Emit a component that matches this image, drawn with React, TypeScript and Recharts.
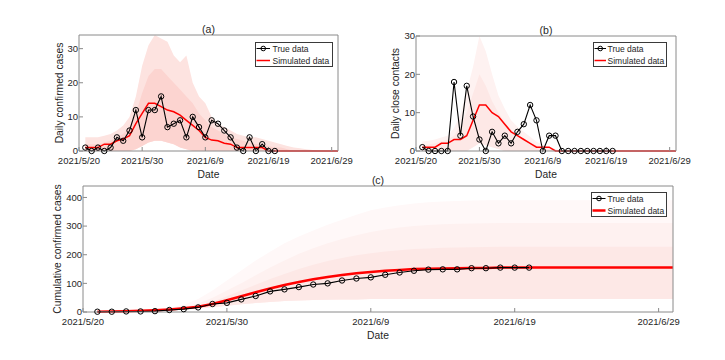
import { ComposedChart, Line, Area, XAxis, YAxis, Legend } from "recharts";

// x = days since 2021/5/20 (1 = 2021/5/21)
const days = [1, 2, 3, 4, 5, 6, 7, 8, 9, 10, 11, 12, 13, 14, 15, 16, 17, 18, 19, 20, 21, 22, 23, 24, 25, 26, 27, 28, 29, 30, 31, 32, 33, 34, 35, 36, 37, 38, 39, 40, 41];
const dateTicks = [0, 10, 20, 30, 40];
const dateLabels = ["2021/5/20", "2021/5/30", "2021/6/9", "2021/6/19", "2021/6/29"];

// (a) daily confirmed cases
const dailyTrue = [1, 0, 1, 0, 1, 4, 3, 6, 12, 4, 12, 12, 16, 7, 8, 9, 4, 10, 7, 4, 9, 8, 6, 4, 1, 0, 4, 0, 2, 0, 0];
const dailySim = [1, 1, 1, 2, 2, 3, 3.5, 4.5, 8, 11, 14, 14, 13, 12, 11.5, 10.5, 9, 7.5, 6, 4, 3.2, 3, 2.3, 2, 1, 1, 1, 1, 1, 0, 0, 0, 0, 0, 0, 0, 0, 0, 0, 0, 0];
const dailyHi = [4, 4, 4, 4.5, 5, 6, 7.5, 10, 16, 25, 31, 34, 33, 32, 28, 26, 28, 20, 16, 14, 10, 8, 7, 6, 5, 4.5, 4, 4, 3.5, 3, 2.5, 2, 1.5, 1, 0.8, 0.5, 0.3, 0, 0, 0, 0];
const dailyCore = [2, 2, 2, 2.5, 3, 4, 5, 7, 11, 17, 22, 24, 24, 22, 20, 18, 16, 14, 11, 9, 7, 6, 5, 4, 3.5, 3, 2.5, 2, 2, 1.5, 1, 1, 0.5, 0, 0, 0, 0, 0, 0, 0, 0];
const dailyLo = [0, 0, 0, 0, 0, 0, 0, 0, 0.5, 1.5, 2.5, 3, 3, 2.5, 2, 1, 0.5, 0, 0, 0, 0, 0, 0, 0, 0, 0, 0, 0, 0, 0, 0, 0, 0, 0, 0, 0, 0, 0, 0, 0, 0];

// (b) daily close contacts
const contactTrue = [1, 0, 0, 0, 0, 18, 4, 17, 9, 3, 0, 5, 2, 4, 2, 5, 7, 12, 8, 0, 4, 4, 0, 0, 0, 0, 0, 0, 0, 0, 0];
const contactSim = [1, 1, 1, 2, 2, 3, 3, 4, 8, 12, 12, 10, 9, 7, 5, 4, 3, 2, 1, 1, 1, 0, 0, 0, 0, 0, 0, 0, 0, 0, 0, 0, 0, 0, 0, 0, 0, 0, 0, 0, 0];
const contactHi = [2.5, 2.7, 3, 3.5, 4, 6, 9.5, 15.5, 22, 30, 26, 20, 14.5, 11, 8, 6.3, 5, 3.7, 2.4, 1.6, 1, 0.5, 0, 0, 0, 0, 0, 0, 0, 0, 0, 0, 0, 0, 0, 0, 0, 0, 0, 0, 0];
const contactCore = [1.5, 1.7, 2, 2.5, 3, 4, 6.5, 10, 15, 20, 17, 13, 10, 7.5, 5.5, 4, 3, 2, 1.5, 1, 0.5, 0.2, 0, 0, 0, 0, 0, 0, 0, 0, 0, 0, 0, 0, 0, 0, 0, 0, 0, 0, 0];
const contactLo = [0, 0, 0, 0, 0, 0, 0, 0, 1, 2, 1.5, 1, 0.5, 0, 0, 0, 0, 0, 0, 0, 0, 0, 0, 0, 0, 0, 0, 0, 0, 0, 0, 0, 0, 0, 0, 0, 0, 0, 0, 0, 0];

// (c) cumulative confirmed cases
const cumTrue = [1, 1, 2, 2, 3, 7, 10, 16, 28, 32, 44, 56, 72, 79, 87, 96, 100, 110, 117, 121, 130, 138, 144, 148, 149, 149, 153, 153, 155, 155, 155];
const cumSim = [1, 2, 3, 4, 6, 9, 13, 18, 28, 41, 55, 69, 82, 94, 105, 114, 122, 129, 135, 140, 144, 147, 150, 151, 152, 153, 154, 154, 155, 155, 155, 155, 155, 155, 155, 155, 155, 155, 155, 155, 155];
const cumHi = [2, 3, 4, 6, 8, 14, 25, 45, 75, 110, 145, 180, 210, 240, 264, 285, 305, 322, 340, 355, 365, 373, 379, 383, 386, 388, 389, 390, 390, 390, 390, 390, 390, 390, 390, 390, 390, 390, 390, 390, 390];
const cumMid = [2, 3, 3, 4, 6, 10, 17, 30, 50, 75, 100, 128, 155, 180, 203, 223, 240, 255, 268, 279, 288, 295, 300, 304, 306, 308, 309, 310, 311, 311, 311, 311, 311, 311, 311, 311, 311, 311, 311, 311, 311];
const cumCore = [2, 2, 3, 4, 5, 8, 13, 22, 36, 55, 75, 95, 115, 133, 150, 165, 178, 189, 198, 205, 211, 216, 220, 222, 224, 225, 226, 227, 228, 228, 228, 228, 228, 228, 228, 228, 228, 228, 228, 228, 228];
const cumLo = [1, 1, 1, 2, 3, 5, 8, 12, 17, 22, 27, 31, 35, 38, 40, 42, 43, 44, 44, 45, 45, 45, 45, 45, 45, 45, 45, 45, 45, 45, 45, 45, 45, 45, 45, 45, 45, 45, 45, 45, 45];

const FONT = '"Liberation Sans", Arial, sans-serif';
const TXT = "#262626";
const AX = "#8a8a8a";

const build = (truth: number[], sim: number[], lo: number[], core: number[], hi: number[], mid?: number[]) =>
  days.map((x, i) => ({
    x,
    truth: i < truth.length ? truth[i] : null,
    sim: sim[i],
    lo: lo[i],
    core: core[i],
    mid: mid ? mid[i] : null,
    hi: hi[i],
  }));

const rowsA = build(dailyTrue, dailySim, dailyLo, dailyCore, dailyHi);
const rowsB = build(contactTrue, contactSim, contactLo, contactCore, contactHi);
const rowsC = build(cumTrue, cumSim, cumLo, cumCore, cumHi, cumMid);

type LegendSpec = { left: number; top: number; width: number; lineEnd: number; textX: number };

function LegendBox({ spec, thick }: { spec: LegendSpec; thick?: boolean }) {
  const { left, top, width, lineEnd, textX } = spec;
  const cx = (1.5 + lineEnd) / 2;
  return (
    <div style={{ position: "absolute", left, top, width, height: 25, border: "1px solid #3a3a3a", background: "#fff", boxSizing: "border-box" }}>
      <svg width={width} height={25} style={{ position: "absolute", left: -1, top: -1 }}>
        <line x1={1.5} x2={lineEnd} y1={6.5} y2={6.5} stroke="#000" strokeWidth={1} />
        <circle cx={cx} cy={6.5} r={2.3} fill="none" stroke="#000" strokeWidth={1} />
        <line x1={1.5} x2={lineEnd} y1={18.5} y2={18.5} stroke="#f00" strokeWidth={thick ? 2.5 : 1.5} />
        <text x={textX} y={9.5} fontSize={8.5} fill={TXT} fontFamily={FONT}>True data</text>
        <text x={textX} y={21.5} fontSize={8.5} fill={TXT} fontFamily={FONT}>Simulated data</text>
      </svg>
    </div>
  );
}

type PanelProps = {
  rows: ReturnType<typeof build>;
  width: number;
  height: number;
  margin: { top: number; right: number; bottom: number; left: number };
  yMax: number;
  yTicks: number[];
  yLabel: string;
  yLabelOffset: number;
  title: string;
  xTickMargin: number;
  legend: LegendSpec;
  bands: { key: "core" | "mid" | "hi"; fill: string }[];
  cumulative?: boolean;
};

function Panel(p: PanelProps) {
  const tickStyle = { fontSize: 9.5, fill: TXT, fontFamily: FONT };
  return (
    <ComposedChart width={p.width} height={p.height} data={p.rows} margin={p.margin}>
      <XAxis
        dataKey="x"
        type="number"
        domain={[0, 41]}
        ticks={dateTicks}
        tickFormatter={(v: number) => dateLabels[dateTicks.indexOf(v)]}
        height={27}
        tickSize={-4}
        tickMargin={p.xTickMargin}
        stroke={AX}
        tick={tickStyle}
        interval={0}
        label={{ value: "Date", position: "insideBottom", offset: 0, style: { fontSize: 10.3, fill: TXT, fontFamily: FONT } }}
      />
      <XAxis
        xAxisId="top"
        orientation="top"
        type="number"
        domain={[0, 41]}
        ticks={dateTicks}
        height={1}
        tickSize={-4}
        tick={false}
        stroke={AX}
        label={{ value: p.title, position: "top", offset: 1, style: { fontSize: 10.5, fill: TXT, fontFamily: FONT } }}
      />
      <YAxis
        type="number"
        domain={[0, p.yMax]}
        ticks={p.yTicks}
        width={30}
        tickSize={-4}
        tickMargin={5}
        stroke={AX}
        tick={tickStyle}
        interval={0}
        label={{ value: p.yLabel, angle: -90, position: "insideLeft", offset: p.yLabelOffset, style: { textAnchor: "middle", fontSize: 10.3, fill: TXT, fontFamily: FONT } }}
      />
      <YAxis yAxisId="right" orientation="right" type="number" domain={[0, p.yMax]} ticks={p.yTicks} width={1} tickSize={-4} tick={false} stroke={AX} />
      {p.bands.map((b) => (
        <Area
          key={b.key}
          dataKey={(d: any) => [d.lo, d[b.key]]}
          type="linear"
          stroke="none"
          fill={b.fill}
          fillOpacity={1}
          isAnimationActive={false}
          activeDot={false}
        />
      ))}
      <Line dataKey="sim" type="linear" stroke="#f00" strokeWidth={p.cumulative ? 2.5 : 1.5} dot={false} isAnimationActive={false} />
      <Line
        dataKey="truth"
        type="linear"
        stroke="#000"
        strokeWidth={1.1}
        dot={{ r: 2.7, stroke: "#000", strokeWidth: 1, fill: "none" }}
        isAnimationActive={false}
      />
      <Legend
        layout="vertical"
        align="center"
        verticalAlign="middle"
        wrapperStyle={{ left: 0, top: 0, width: 0, height: 0 }}
        content={() => <LegendBox spec={p.legend} thick={p.cumulative} />}
      />
    </ComposedChart>
  );
}

export default function App() {
  return (
    <div style={{ position: "absolute", left: 0, top: 0, width: 725, height: 360, background: "#fff", fontFamily: FONT }}>
      <div style={{ position: "absolute", left: 0, top: 0 }}>
        <Panel
          rows={rowsA}
          width={360}
          height={180}
          margin={{ top: 34, right: 21, bottom: 2, left: 49 }}
          yMax={34}
          yTicks={[0, 10, 20, 30]}
          yLabel="Daily confirmed cases"
          yLabelOffset={10}
          title="(a)"
          xTickMargin={10.5}
          legend={{ left: 255, top: 41.5, width: 78, lineEnd: 15, textX: 17.5 }}
          bands={[
            { key: "hi", fill: "#fde3e0" },
            { key: "core", fill: "#fcd4d0" },
          ]}
        />
      </div>
      <div style={{ position: "absolute", left: 360, top: 0 }}>
        <Panel
          rows={rowsB}
          width={365}
          height={180}
          margin={{ top: 35, right: 48, bottom: 2, left: 26 }}
          yMax={30}
          yTicks={[0, 10, 20, 30]}
          yLabel="Daily close contacts"
          yLabelOffset={9}
          title="(b)"
          xTickMargin={10.5}
          legend={{ left: 233, top: 41.5, width: 74, lineEnd: 13, textX: 14.5 }}
          bands={[
            { key: "hi", fill: "#fef2f1" },
            { key: "core", fill: "#fde8e6" },
          ]}
        />
      </div>
      <div style={{ position: "absolute", left: 0, top: 170 }}>
        <Panel
          rows={rowsC}
          width={725}
          height={190}
          margin={{ top: 15, right: 51, bottom: 21, left: 53 }}
          yMax={440}
          yTicks={[0, 100, 200, 300, 400]}
          yLabel="Cumulative confirmed cases"
          yLabelOffset={4}
          title="(c)"
          xTickMargin={10.5}
          legend={{ left: 590.5, top: 21.5, width: 76, lineEnd: 14.5, textX: 16.5 }}
          bands={[
            { key: "hi", fill: "#fff8f8" },
            { key: "mid", fill: "#fef1f0" },
            { key: "core", fill: "#fde8e6" },
          ]}
          cumulative
        />
      </div>
    </div>
  );
}
